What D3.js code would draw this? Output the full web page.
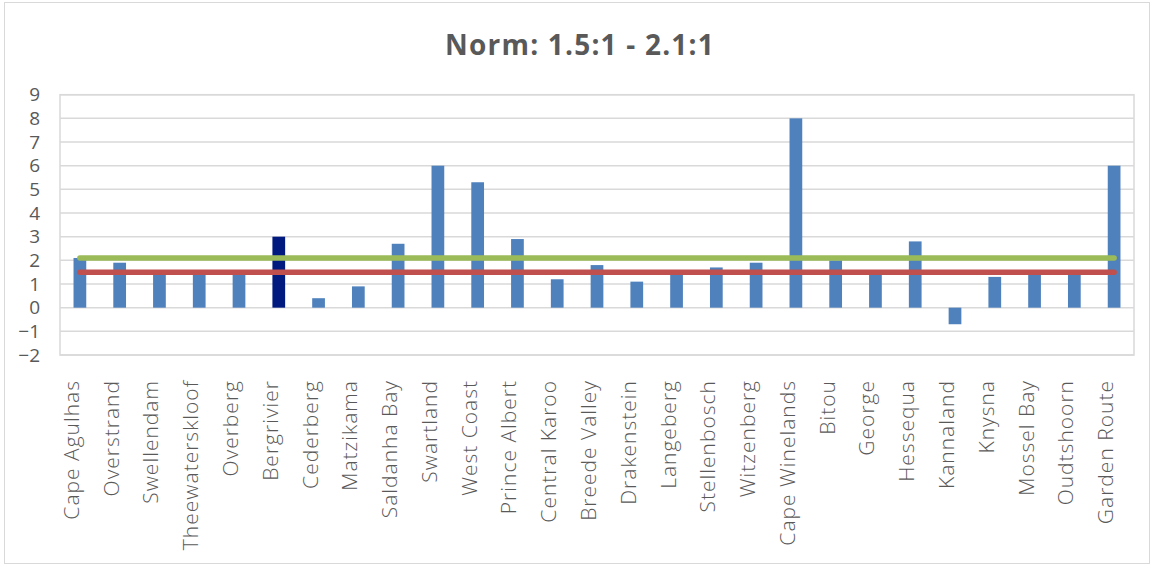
<!DOCTYPE html>
<html>
<head>
<meta charset="utf-8">
<script src="https://cdn.jsdelivr.net/npm/d3@7"></script>
<style>
  html, body { margin: 0; padding: 0; background: #fff; }
  svg { display: block; }
  text { font-family: "Open Sans", "Lato", sans-serif; fill: #595959; }
</style>
</head>
<body>
<svg id="chart" width="1153" height="565"></svg>
<script>
// Municipalities along the category axis
const categories = [
  "Cape Agulhas", "Overstrand", "Swellendam", "Theewaterskloof", "Overberg",
  "Bergrivier", "Cederberg", "Matzikama", "Saldanha Bay", "Swartland",
  "West Coast", "Prince Albert", "Central Karoo", "Breede Valley", "Drakenstein",
  "Langeberg", "Stellenbosch", "Witzenberg", "Cape Winelands", "Bitou",
  "George", "Hessequa", "Kannaland", "Knysna", "Mossel Bay",
  "Oudtshoorn", "Garden Route"
];

// Ratio per municipality
const ratios = [
  2.1, 1.9, 1.5, 1.5, 1.5,
  3.0, 0.4, 0.9, 2.7, 6.0,
  5.3, 2.9, 1.2, 1.8, 1.1,
  1.5, 1.7, 1.9, 8.0, 2.0,
  1.5, 2.8, -0.7, 1.3, 1.5,
  1.5, 6.0
];

// Highlighted municipality
const highlight = "Bergrivier";

// Norm band
const normLower = 1.5;
const normUpper = 2.1;

// Value axis ticks
const yTicks = [-2, -1, 0, 1, 2, 3, 4, 5, 6, 7, 8, 9];

const svg = d3.select("#chart");
const plot = { left: 60, right: 1134, top: 94.7, bottom: 355 };

// Outer chart frame
svg.append("rect")
  .attr("x", 4.5).attr("y", 2.5)
  .attr("width", 1145).attr("height", 561)
  .attr("fill", "#fff").attr("stroke", "#d9d9d9").attr("stroke-width", 1);

const x = d3.scaleBand()
  .domain(categories)
  .range([plot.left, plot.right])
  .padding(0);

const y = d3.scaleLinear()
  .domain([d3.min(yTicks), d3.max(yTicks)])
  .range([plot.bottom, plot.top]);

// Gridlines
svg.append("g")
  .selectAll("line")
  .data(yTicks)
  .join("line")
  .attr("x1", plot.left).attr("x2", plot.right)
  .attr("y1", d => y(d)).attr("y2", d => y(d))
  .attr("stroke", "#d9d9d9").attr("stroke-width", 1.5);

// Plot-area frame
svg.append("rect")
  .attr("x", plot.left).attr("y", plot.top)
  .attr("width", plot.right - plot.left).attr("height", plot.bottom - plot.top)
  .attr("fill", "none").attr("stroke", "#d9d9d9").attr("stroke-width", 1.5);

// Y axis labels
const yAxis = d3.axisLeft(y).tickValues(yTicks).tickSize(0).tickPadding(0).tickFormat(d3.format("d"));
const yg = svg.append("g").attr("transform", "translate(40,0)").call(yAxis);
yg.select(".domain").remove();
yg.selectAll("text")
  .attr("font-size", 19)
  .attr("font-family", "Lato, sans-serif")
  .attr("fill", "#595959");

// Bars
const barW = x.bandwidth() * 0.32;
svg.append("g")
  .selectAll("rect")
  .data(categories.map((c, i) => ({ c, v: ratios[i] })))
  .join("rect")
  .attr("x", d => x(d.c) + x.bandwidth() / 2 - barW / 2)
  .attr("width", barW)
  .attr("y", d => Math.min(y(d.v), y(0)))
  .attr("height", d => Math.abs(y(d.v) - y(0)))
  .attr("fill", d => d.c === highlight ? "#001a80" : "#4f81bd");

// Norm lines
const cx = c => x(c) + x.bandwidth() / 2;
const normLine = d3.line().x(d => cx(d[0])).y(d => y(d[1]));
[[normUpper, "#9bbb59"], [normLower, "#c0504d"]].forEach(([v, col]) => {
  svg.append("path")
    .attr("d", normLine([[categories[0], v], [categories[categories.length - 1], v]]))
    .attr("fill", "none")
    .attr("stroke", col)
    .attr("stroke-width", 5.5)
    .attr("stroke-linecap", "round");
});

// Category labels (rotated)
const xAxis = d3.axisBottom(x).tickSize(0).tickPadding(0);
const xg = svg.append("g").attr("transform", `translate(0,${plot.bottom})`).call(xAxis);
xg.select(".domain").remove();
xg.selectAll("text")
  .attr("font-size", 21)
  .attr("font-family", "Open Sans, sans-serif")
  .attr("font-weight", 300)
  .attr("letter-spacing", 1)
  .attr("fill", "#595959")
  .attr("text-anchor", "end")
  .attr("dy", null)
  .attr("y", 0)
  .attr("transform", "translate(-1,25) rotate(-90)");

// Title
svg.append("text")
  .attr("x", 580).attr("y", 55)
  .attr("text-anchor", "middle")
  .attr("font-size", 28)
  .attr("font-weight", "bold")
  .attr("letter-spacing", 1.2)
  .text("Norm: 1.5:1 - 2.1:1");
</script>
</body>
</html>
